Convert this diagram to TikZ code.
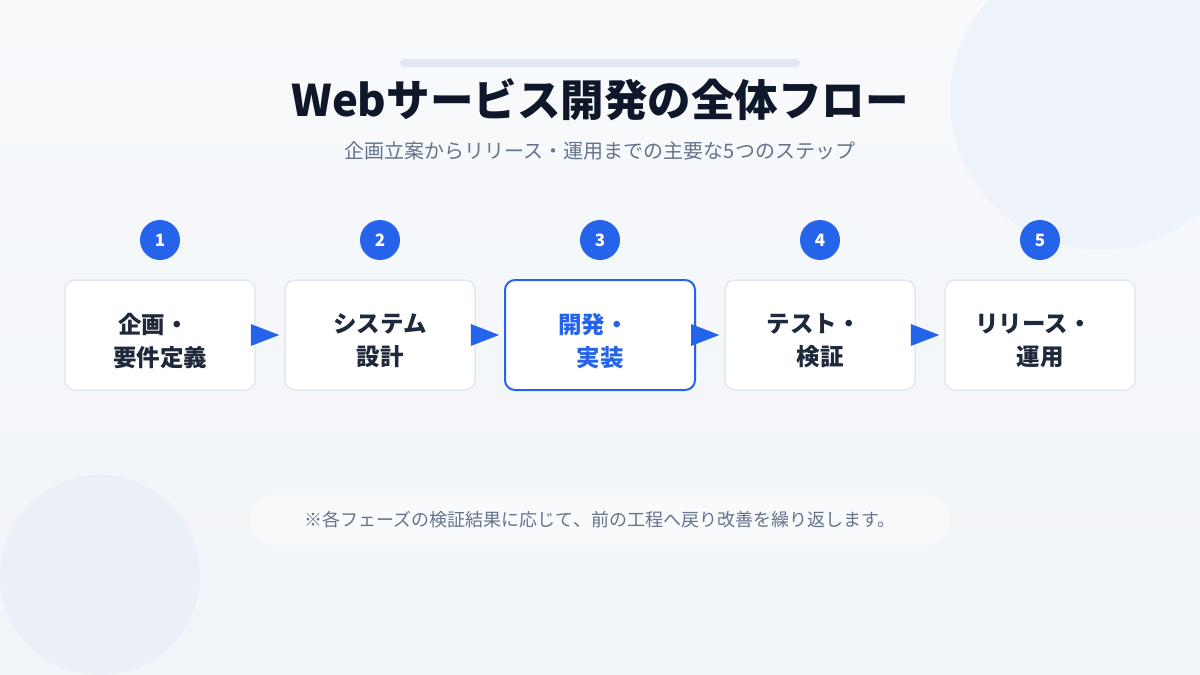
\documentclass[tikz,border=0pt]{standalone}
\usepackage{fontspec}
\setmainfont{Noto Sans CJK JP}
\usetikzlibrary{calc}
\definecolor{accent}{HTML}{2563EB}
\definecolor{bgtop}{HTML}{F8FAFC}
\definecolor{bgbot}{HTML}{F1F4F8}
\definecolor{decoA}{HTML}{EEF2FA}
\definecolor{decoB}{HTML}{EBEFF7}
\definecolor{barc}{HTML}{E1E7F5}
\definecolor{titlec}{HTML}{0F172A}
\definecolor{subc}{HTML}{64748B}
\definecolor{textdark}{HTML}{1E293B}
\definecolor{borderc}{HTML}{E2E8F0}
\definecolor{pillc}{HTML}{F8FAFC}
\tikzset{
  numc/.style={circle, fill=accent, minimum size=40pt, inner sep=0pt, text=white, font=\bfseries\fontsize{17}{17}\selectfont},
  stepbox/.style={rectangle, rounded corners=10pt, draw=borderc, line width=1.5pt, fill=white, minimum width=190pt, minimum height=110pt},
  activebox/.style={stepbox, draw=accent, line width=2pt},
  steptext/.style={align=center, inner sep=0pt, text=textdark, font=\bfseries\fontsize{23.5}{33}\selectfont},
  activetext/.style={steptext, text=accent},
  tri/.style={fill=accent},
  pill/.style={rectangle, rounded corners=25pt, fill=pillc, minimum width=700pt, minimum height=50pt, text=subc, font=\fontsize{18}{20}\selectfont}
}
\begin{document}
\begin{tikzpicture}[x=1pt,y=-1pt]
\useasboundingbox (0,0) rectangle (1200,675);
\shade[top color=bgtop, bottom color=bgbot] (0,0) rectangle (1200,675);
\begin{scope}
\clip (0,0) rectangle (1200,675);
\fill[decoA] (1100,100) circle (150pt);
\fill[decoB] (100,575) circle (100pt);
\end{scope}
\fill[barc, rounded corners=4pt] (400,59) rectangle (800,67);
\node[font=\bfseries\fontsize{43.5}{50}\selectfont, text=titlec] (title) at (600,100) {Webサービス開発の全体フロー};
\node[font=\fontsize{20}{24}\selectfont, text=subc] (sub) at (600,151) {企画立案からリリース・運用までの主要な5つのステップ};
\foreach \i/\x in {1/160,2/380,3/600,4/820,5/1040}{
  \node[numc] (n\i) at (\x,240) {\i};
}
\node[stepbox] (b1) at (160,335) {};
\node[stepbox] (b2) at (380,335) {};
\node[activebox] (b3) at (600,335) {};
\node[stepbox] (b4) at (820,335) {};
\node[stepbox] (b5) at (1040,335) {};
\node[steptext] (t1) at ($(b1.center)+(0,6)$) {企画・\hspace*{13pt}\\要件定義};
\node[steptext] (t2) at ($(b2.center)+(0,6)$) {システム\\設計};
\node[activetext] (t3) at ($(b3.center)+(0,6)$) {開発・\hspace*{13pt}\\実装};
\node[steptext] (t4) at ($(b4.center)+(0,6)$) {テスト・\hspace*{13pt}\\検証};
\node[steptext] (t5) at ($(b5.center)+(0,6)$) {リリース・\hspace*{13pt}\\運用};
\foreach \a/\b in {b1/b2,b2/b3,b3/b4,b4/b5}{
  \fill[tri] ($(\a.east)+(-5,-11)$) -- ($(\b.west)+(-5,0)$) -- ($(\a.east)+(-5,11)$) -- cycle;
}
\node[pill] (note) at (600,520) {※各フェーズの検証結果に応じて、前の工程へ戻り改善を繰り返します。};
\end{tikzpicture}
\end{document}
